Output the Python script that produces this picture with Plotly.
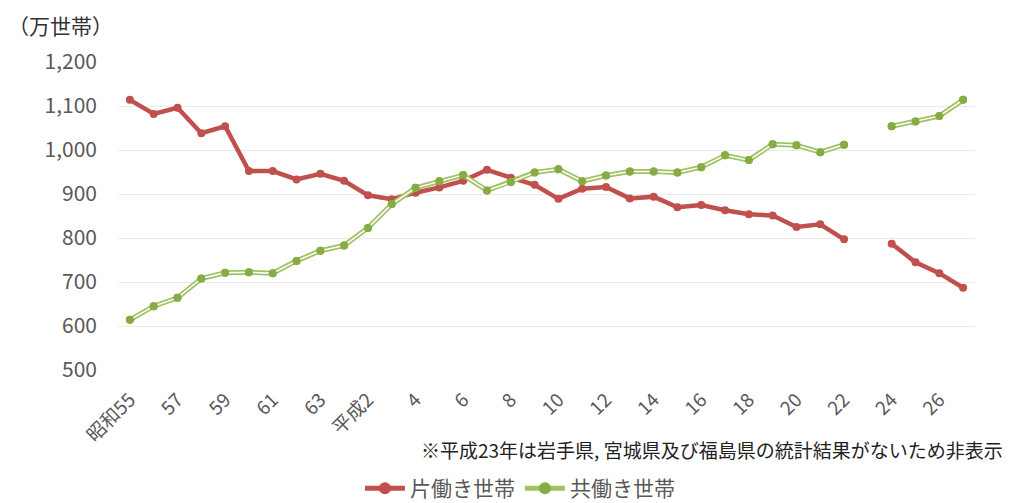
import plotly.graph_objects as go

categories = ["昭和55", "56", "57", "58", "59", "60", "61", "62", "63", "元",
              "平成2", "3", "4", "5", "6", "7", "8", "9", "10", "11", "12", "13",
              "14", "15", "16", "17", "18", "19", "20", "21", "22", "23",
              "24", "25", "26", "27"]
tick_labels = ["昭和55", "57", "59", "61", "63", "平成2", "4", "6", "8", "10",
               "12", "14", "16", "18", "20", "22", "24", "26"]

single_income = [1114, 1082, 1096, 1038, 1054, 952, 952, 933, 946, 930,
                 897, 888, 903, 915, 930, 955, 937, 921, 889, 912, 916, 890,
                 894, 870, 875, 863, 854, 851, 825, 831, 797, None,
                 787, 745, 720, 687]
dual_income = [614, 645, 664, 708, 721, 722, 720, 748, 771, 783,
               823, 877, 914, 929, 943, 908, 927, 949, 956, 929, 942, 951,
               951, 949, 961, 988, 977, 1013, 1011, 995, 1012, None,
               1054, 1065, 1077, 1114]

RED = "#c0504d"
GREEN = "#a2c163"
GREEN_M = "#86ad45"
FONT = "Noto Sans CJK JP, Noto Sans, sans-serif"

fig = go.Figure()
fig.add_trace(go.Scatter(
    x=categories, y=single_income, name="片働き世帯", mode="lines+markers",
    line=dict(color=RED, width=4.5), marker=dict(color=RED, size=8, symbol="circle"),
    connectgaps=False))
fig.add_trace(go.Scatter(
    x=categories, y=dual_income, name="共働き世帯", mode="lines+markers",
    line=dict(color=GREEN, width=5), marker=dict(color=GREEN_M, size=8, symbol="circle"),
    connectgaps=False))
fig.add_trace(go.Scatter(
    x=categories, y=dual_income, mode="lines", showlegend=False, hoverinfo="skip",
    line=dict(color="white", width=1.5), connectgaps=False))
fig.add_trace(go.Scatter(
    x=categories, y=dual_income, mode="markers", showlegend=False, hoverinfo="skip",
    marker=dict(color=GREEN_M, size=8, symbol="circle")))

fig.update_layout(
    width=1013, height=503,
    margin=dict(l=118, r=38, t=62, b=133, autoexpand=False),
    paper_bgcolor="white", plot_bgcolor="white",
    font=dict(family=FONT, color="#595959"),
    showlegend=True,
    legend=dict(orientation="h", x=0.469, xanchor="center", xref="paper",
                y=-0.385, yanchor="middle", yref="paper",
                font=dict(size=21, color="#595959"), itemwidth=40,
                tracegroupgap=0, itemsizing="constant"),
    xaxis=dict(type="category", categoryorder="array", categoryarray=categories,
               range=[-0.5, len(categories) - 0.5],
               tickmode="array", tickvals=tick_labels, ticktext=tick_labels,
               tickangle=-45, tickfont=dict(size=19, color="#595959"),
               showgrid=False, showline=False, zeroline=False, ticks="",
               ticklabelstandoff=14),
    yaxis=dict(range=[500, 1200], tickvals=[500, 600, 700, 800, 900, 1000, 1100, 1200],
               tickformat=",d", tickfont=dict(size=21, color="#595959"),
               showgrid=True, gridcolor="#ebebeb", gridwidth=1,
               zeroline=False, showline=False, ticks="", ticklabelstandoff=20),
    annotations=[
        dict(text="（万世帯）", xref="paper", yref="paper", x=-112 / 857, y=1 + 37 / 308,
             xanchor="left", yanchor="middle", showarrow=False,
             font=dict(size=21, color="#333333")),
        dict(text="※平成23年は岩手県, 宮城県及び福島県の統計結果がないため非表示",
             xref="paper", yref="paper", x=1 + 30 / 857, y=-79 / 308,
             xanchor="right", yanchor="middle", showarrow=False,
             font=dict(size=19, color="#222222")),
    ],
)

fig.write_html("out.html")
